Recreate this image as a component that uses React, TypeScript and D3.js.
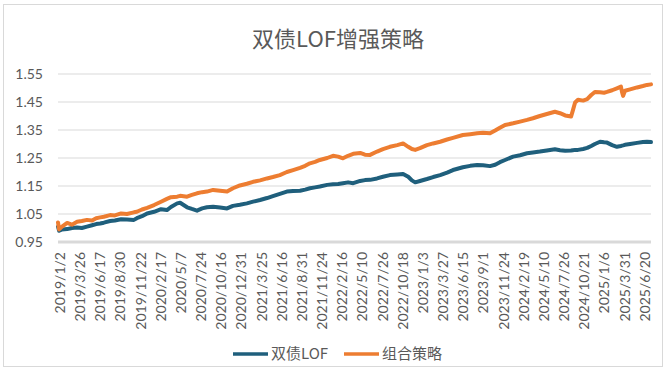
import React from "react";
import * as d3 from "d3";

const TITLE = "双债LOF增强策略";
const SERIES_NAMES = ["双债LOF", "组合策略"];
const Y_TICKS = [0.95, 1.05, 1.15, 1.25, 1.35, 1.45, 1.55];
const X_LABELS = [
  "2019/1/2", "2019/3/26", "2019/6/17", "2019/8/30", "2019/11/22",
  "2020/2/17", "2020/5/7", "2020/7/24", "2020/10/16", "2020/12/31",
  "2021/3/25", "2021/6/16", "2021/8/31", "2021/11/24", "2022/2/16",
  "2022/5/10", "2022/7/26", "2022/10/18", "2023/1/3", "2023/3/27",
  "2023/6/15", "2023/9/1", "2023/11/24", "2024/2/19", "2024/5/10",
  "2024/7/26", "2024/10/21", "2025/1/6", "2025/3/31", "2025/6/20",
];
const LABEL_STEP = 55; // trading days between labels
const TOTAL_DAYS = 1618;

// sample positions (trading-day index)
const DAYS = [
  0, 3, 11, 25, 38, 52, 65, 79, 93, 104, 115, 125, 142, 155, 172, 188, 207, 215, 229, 243,
  262, 281, 297, 308, 325, 333, 352, 365, 379, 393, 406, 423, 442, 461, 477, 496, 515, 532, 551, 570,
  586, 605, 624, 641, 660, 674, 687, 701, 714, 734, 750, 764, 777, 791, 805, 824, 837, 851, 870, 886,
  905, 925, 941, 955, 965, 974, 987, 1006, 1023, 1042, 1061, 1077, 1104, 1124, 1143, 1159, 1178, 1192, 1205, 1219,
  1241, 1260, 1279, 1295, 1314, 1333, 1355, 1369, 1383, 1399, 1404, 1410, 1418, 1432, 1443, 1454, 1464, 1478, 1489, 1497,
  1511, 1524, 1535, 1538, 1541, 1546, 1560, 1579, 1595, 1606, 1617,
];

const BOND_LOF = [
  1.005, 0.99, 0.995, 0.996, 1.0, 1.002, 1.0, 1.005, 1.01, 1.014, 1.016, 1.019, 1.025, 1.027, 1.031, 1.03, 1.029, 1.035, 1.042, 1.052,
  1.058, 1.067, 1.064, 1.075, 1.088, 1.09, 1.074, 1.068, 1.062, 1.07, 1.074, 1.076, 1.073, 1.07, 1.079, 1.083, 1.088, 1.094, 1.1, 1.107,
  1.114, 1.122, 1.13, 1.132, 1.133, 1.137, 1.142, 1.145, 1.148, 1.154, 1.156, 1.157, 1.16, 1.163, 1.16, 1.168, 1.171, 1.172, 1.177, 1.183,
  1.189, 1.191, 1.193, 1.183, 1.17, 1.163, 1.168, 1.175, 1.182, 1.189, 1.198, 1.207, 1.217, 1.222, 1.225, 1.224, 1.221, 1.226, 1.235, 1.243,
  1.255, 1.26, 1.267, 1.27, 1.273, 1.277, 1.281, 1.278, 1.276, 1.277, 1.278, 1.279, 1.279, 1.282, 1.286, 1.293, 1.3, 1.308, 1.306, 1.305,
  1.296, 1.29, 1.293, 1.294, 1.295, 1.297, 1.3, 1.304, 1.307, 1.308, 1.307,
];

const COMBO = [
  1.02, 0.995, 1.005, 1.018, 1.012, 1.022, 1.025, 1.029, 1.027, 1.035, 1.038, 1.04, 1.046, 1.045, 1.052, 1.05, 1.056, 1.058, 1.066, 1.072,
  1.082, 1.094, 1.104, 1.11, 1.112, 1.115, 1.112, 1.118, 1.124, 1.128, 1.13, 1.136, 1.133, 1.13, 1.142, 1.152, 1.158, 1.165, 1.17, 1.177,
  1.182, 1.189, 1.2, 1.207, 1.215, 1.222, 1.231, 1.236, 1.243, 1.25, 1.258, 1.255, 1.249, 1.258, 1.265, 1.268, 1.262, 1.261, 1.273, 1.282,
  1.29, 1.296, 1.302, 1.29, 1.282, 1.279, 1.285, 1.296, 1.302, 1.308, 1.316, 1.322, 1.332, 1.335, 1.338, 1.34, 1.338, 1.348, 1.358, 1.368,
  1.374, 1.38, 1.386, 1.392, 1.4, 1.407, 1.415, 1.41, 1.402, 1.398, 1.42, 1.448, 1.458, 1.455, 1.46, 1.475, 1.486, 1.485, 1.483, 1.486,
  1.492, 1.499, 1.505, 1.485, 1.472, 1.49, 1.495, 1.502, 1.507, 1.511, 1.513,
];

const COLORS = ["#1f5f7c", "#ed7d31"];

export default function App() {
  const W = 669, H = 372;
  const left = 58, right = 651, top = 74, bottom = 242;
  const x = d3.scaleLinear().domain([0, TOTAL_DAYS - 1]).range([left, right]);
  const y = d3.scaleLinear().domain([0.95, 1.55]).range([bottom, top]);
  const line = d3
    .line<number>()
    .x((_, i) => x(DAYS[i]))
    .y((d) => y(d))
    .curve(d3.curveLinear);
  const series = [BOND_LOF, COMBO];
  const font = "Lato, 'Noto Sans', sans-serif";
  const cjk = "'Noto Sans CJK SC', 'Noto Sans', sans-serif";
  const legendItems = [
    { x0: 233, name: SERIES_NAMES[0], color: COLORS[0] },
    { x0: 344, name: SERIES_NAMES[1], color: COLORS[1] },
  ];
  return (
    <svg
      width={W}
      height={H}
      style={{ position: "absolute", left: 0, top: 0, background: "#fff" }}
    >
      <rect x={0} y={0} width={W} height={H} fill="#fff" />
      <rect x={3.5} y={4.5} width={659} height={362} fill="none" stroke="#d9d9d9" strokeWidth={1} />
      <text
        x={338}
        y={47}
        textAnchor="middle"
        fontFamily={cjk}
        fontSize={22}
        fill="#595959"
      >
        {TITLE}
      </text>
      {Y_TICKS.map((t) => (
        <g key={t}>
          {t > 0.95 && (
            <line x1={left} x2={right} y1={y(t)} y2={y(t)} stroke="#d9d9d9" strokeWidth={1} />
          )}
          <text
            x={43}
            y={y(t)}
            dy="0.35em"
            textAnchor="end"
            fontFamily={font}
            fontSize={14}
            fill="#595959"
          >
            {t.toFixed(2)}
          </text>
        </g>
      ))}
      <line x1={left} x2={right} y1={bottom} y2={bottom} stroke="#d9d9d9" strokeWidth={3} />
      {X_LABELS.map((lab, i) => {
        const px = x(i * LABEL_STEP) + 2;
        return (
          <text
            key={lab}
            transform={`translate(${px},${252}) rotate(-90)`}
            dy="0.35em"
            textAnchor="end"
            fontFamily={font}
            fontSize={14}
            fill="#595959"
          >
            {lab}
          </text>
        );
      })}
      {series.map((s, i) => (
        <path
          key={i}
          d={line(s) || ""}
          fill="none"
          stroke={COLORS[i]}
          strokeWidth={4}
          strokeLinejoin="round"
          strokeLinecap="round"
        />
      ))}
      {legendItems.map((it) => (
        <g key={it.name}>
          <line x1={it.x0} x2={it.x0 + 35} y1={354} y2={354} stroke={it.color} strokeWidth={3.5} />
          <text
            x={it.x0 + 38}
            y={354}
            dy="0.35em"
            fontFamily={cjk}
            fontSize={15}
            fill="#595959"
          >
            {it.name}
          </text>
        </g>
      ))}
    </svg>
  );
}
